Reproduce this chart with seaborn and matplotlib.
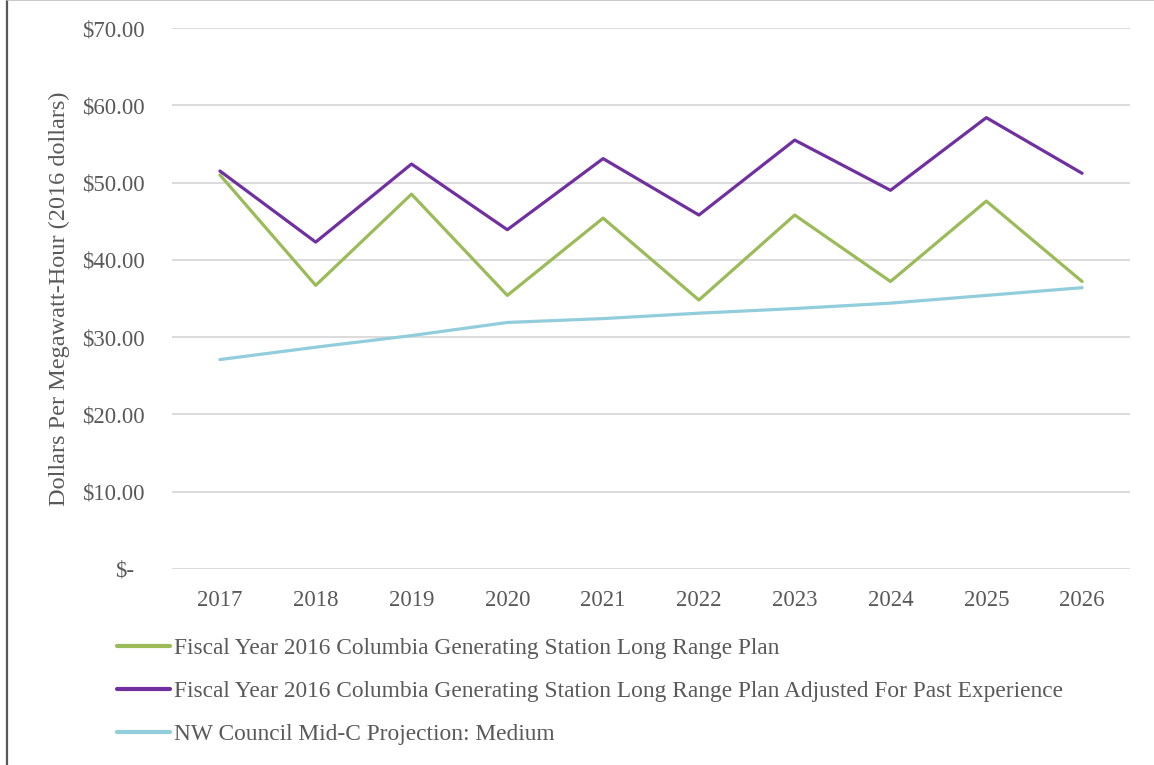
import matplotlib
matplotlib.use("Agg")
import matplotlib.pyplot as plt
import matplotlib.transforms as mtransforms
import seaborn as sns
import pandas as pd

years = ["2017", "2018", "2019", "2020", "2021", "2022", "2023", "2024", "2025", "2026"]
lrp = [51.0, 36.7, 48.5, 35.4, 45.4, 34.8, 45.8, 37.2, 47.6, 37.2]
lrp_adjusted = [51.5, 42.3, 52.4, 43.9, 53.1, 45.8, 55.5, 49.0, 58.4, 51.2]
nw_council = [27.1, 28.7, 30.2, 31.9, 32.4, 33.1, 33.7, 34.4, 35.4, 36.4]
series_names = [
    "Fiscal Year 2016 Columbia Generating Station Long Range Plan",
    "Fiscal Year 2016 Columbia Generating Station Long Range Plan Adjusted For Past Experience",
    "NW Council Mid-C Projection: Medium",
]
colors = ["#9BBB59", "#7030A0", "#92CDDC"]
y_ticks = [0, 10, 20, 30, 40, 50, 60, 70]
y_tick_labels = ["$-", "$10.00", "$20.00", "$30.00", "$40.00", "$50.00", "$60.00", "$70.00"]
y_label = "Dollars Per Megawatt-Hour (2016 dollars)"

rows = []
for name, vals in zip(series_names, [lrp, lrp_adjusted, nw_council]):
    for yr, v in zip(years, vals):
        rows.append({"Year": yr, "Value": v, "Series": name})
df = pd.DataFrame(rows)

sns.set_theme(style="white")
plt.rcParams["font.family"] = ["Liberation Serif", "DejaVu Serif"]
text_color = "#595959"
fs = 16.5

fig = plt.figure(figsize=(11.54, 7.65), dpi=100)
ax = fig.add_axes([172 / 1154, 1 - 569 / 765, (1130 - 172) / 1154, (569 - 28) / 765])

sns.lineplot(data=df, x="Year", y="Value", hue="Series", hue_order=series_names,
             palette=colors, linewidth=2.3, sort=False, ax=ax, legend=True)

ax.set_xlim(-0.5, len(years) - 0.5)
ax.set_ylim(0, 70)
ax.set_yticks(y_ticks)
ax.set_yticklabels(y_tick_labels)
ax.set_xlabel("")
ax.set_ylabel(y_label, fontsize=17.5, color=text_color)
ax.yaxis.set_label_coords(-0.1065, 0.5)
ax.tick_params(axis="y", length=0, pad=19.5, labelsize=fs, labelcolor=text_color)
ax.tick_params(axis="x", length=0, pad=15, labelsize=fs, labelcolor=text_color)
ax.grid(axis="y", color="#D9D9D9", linewidth=1.3)
ax.grid(axis="x", visible=False)
ax.set_axisbelow(True)
for s in ax.spines.values():
    s.set_visible(False)

# shift the "$-" label left like the accounting format
lab0 = ax.get_yticklabels()[0]
lab0.set_transform(lab0.get_transform() + mtransforms.ScaledTranslation(-11 / 100, 0, fig.dpi_scale_trans))

handles, labels = ax.get_legend_handles_labels()
ax.get_legend().remove()
leg = fig.legend(handles, labels, loc="upper left", bbox_to_anchor=(117 / 1154, 1 - 638 / 765),
                 frameon=False, fontsize=16.8, handlelength=2.25, handletextpad=0.2,
                 labelspacing=0.93, borderaxespad=0, borderpad=0)
for t in leg.get_texts():
    t.set_color(text_color)
for l in leg.get_lines():
    l.set_linewidth(3)

# outer frame
fig.add_artist(plt.Line2D([7 / 1154, 7 / 1154], [0, 1], transform=fig.transFigure,
                          color="#595959", linewidth=1.6))
fig.add_artist(plt.Line2D([7 / 1154, 1], [0.9995, 0.9995], transform=fig.transFigure,
                          color="#BFBFBF", linewidth=1.2))

fig.savefig("out.png", dpi=100)
